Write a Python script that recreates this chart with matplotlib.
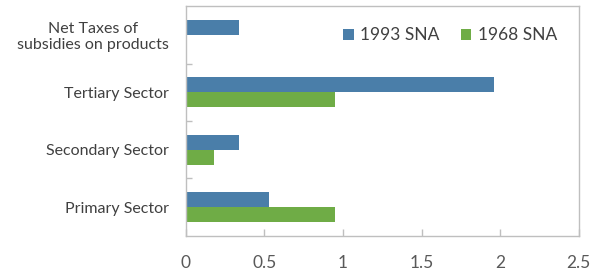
import matplotlib.pyplot as plt
import numpy as np

plt.rcParams['font.family'] = ['Lato', 'DejaVu Sans']

categories = ['Primary Sector', 'Secondary Sector', 'Tertiary Sector',
              'Net Taxes of\nsubsidies on products']
sna_1993 = [0.53, 0.34, 1.96, 0.34]
sna_1968 = [0.95, 0.18, 0.95, 0.0]
x_ticks = [0, 0.5, 1, 1.5, 2, 2.5]
x_labels = ['0', '0.5', '1', '1.5', '2', '2.5']

blue = '#4A7EA9'
green = '#6FAC46'
grid_col = '#BFBFBF'
text_col = '#404040'

fig = plt.figure(figsize=(5.9, 2.75), dpi=100)
ax = fig.add_axes([0.315, 0.142, 0.666, 0.836])

y = np.arange(len(categories))
h = 0.26
ax.barh(y + h / 2, sna_1993, height=h, color=blue, label='1993 SNA')
ax.barh(y - h / 2, sna_1968, height=h, color=green, label='1968 SNA')

ax.set_xlim(0, 2.5)
ax.set_ylim(-0.5, len(categories) - 0.5)
ax.set_xticks(x_ticks)
ax.set_xticklabels(x_labels)
ax.set_yticks(y)
ax.set_yticklabels(categories, ha='right', multialignment='center')
ax.set_yticks([0.5, 1.5, 2.5], minor=True)

ax.tick_params(axis='y', which='major', length=0, pad=12, labelsize=11.5, labelcolor=text_col)
ax.tick_params(axis='y', which='minor', direction='in', length=4, color=grid_col, width=1)
ax.tick_params(axis='x', direction='in', length=5, color=grid_col, width=1, pad=14,
               labelsize=12.5, labelcolor='#595959')
for s in ax.spines.values():
    s.set_color(grid_col)
    s.set_linewidth(1)

leg = ax.legend(loc='upper right', ncol=2, frameon=False, fontsize=12.5,
                handlelength=0.6, handleheight=0.6, handletextpad=0.4,
                columnspacing=1.2, bbox_to_anchor=(0.985, 0.975))
for t in leg.get_texts():
    t.set_color(text_col)

fig.savefig('out.png', dpi=100)
